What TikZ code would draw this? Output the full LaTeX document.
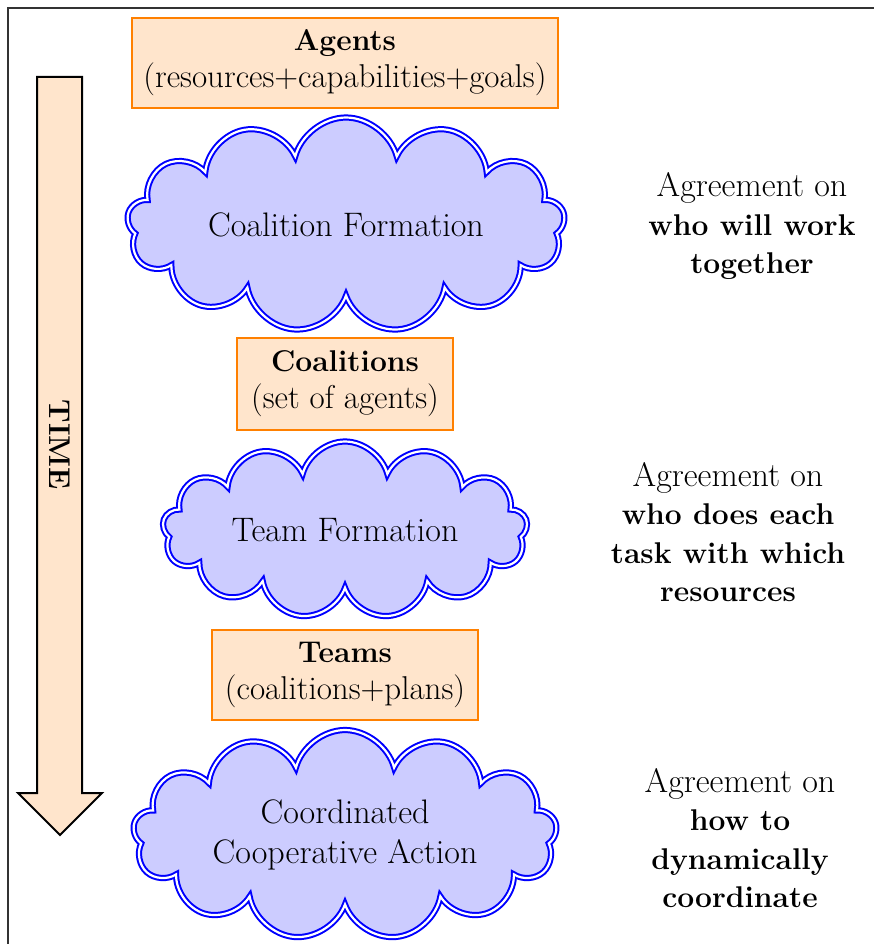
\documentclass[tikz,border=0pt]{standalone}
\usepackage{fontspec}
\usetikzlibrary{shapes.symbols}
\newcommand{\heavy}[1]{{\fontsize{30}{38.5}\selectfont\bfseries #1}}
\begin{document}
\begin{tikzpicture}[x=1pt,y=-1pt,
  txt/.style={font=\fontsize{34}{38.5}\selectfont, align=center},
  stagebox/.style={txt, draw=orange, line width=2pt, fill=orange!20,
    inner sep=0pt, font=\fontsize{33}{37}\selectfont},
  phase/.style={txt, cloud, cloud puffs=13, cloud puff arc=150,
    draw=blue, line width=2pt, double=white, double distance=2.2pt,
    fill=blue!20, inner sep=0pt, cloud ignores aspect},
  note/.style={txt, inner sep=0pt}]
\useasboundingbox (0,0) rectangle (874,944);
% frame
\draw[line width=1.5pt, black!80] (8,950) -- (8,8) -- (880,8);

% time arrow
\draw[line width=2pt, fill=orange!20, line join=miter]
  (37,77) -- (82,77) -- (82,793) -- (102,793) -- (60,835) -- (18,793) -- (37,793) -- cycle;
\node[rotate=-90, font=\fontsize{30}{36}\selectfont\bfseries] (time) at (60,445) {TIME};

% stages
\node[stagebox, minimum width=426, minimum height=90] (agents) at (345,63)
  {\heavy{Agents}\\(resources+capabilities+goals)};
\node[phase, minimum width=438, minimum height=215] (cf) at (346,225) {Coalition Formation};
\node[stagebox, minimum width=216, minimum height=92] (coal) at (345,384)
  {\heavy{Coalitions}\\(set of agents)};
\node[phase, minimum width=365, minimum height=177] (tf) at (345,530) {Team Formation};
\node[stagebox, minimum width=266, minimum height=90] (teams) at (345,675)
  {\heavy{Teams}\\(coalitions+plans)};
\node[phase, minimum width=424, minimum height=210] (cca) at (345,835)
  {Coordinated\\[1pt]Cooperative Action};

% agreements
\node[note] (a1) at (752,226) {Agreement on\\\heavy{who will work}\\\heavy{together}};
\node[note] (a2) at (728,532) {Agreement on\\\heavy{who does each}\\\heavy{task with which}\\\heavy{resources}};
\node[note] (a3) at (740,838) {Agreement on\\\heavy{how to}\\\heavy{dynamically}\\\heavy{coordinate}};
\end{tikzpicture}
\end{document}
